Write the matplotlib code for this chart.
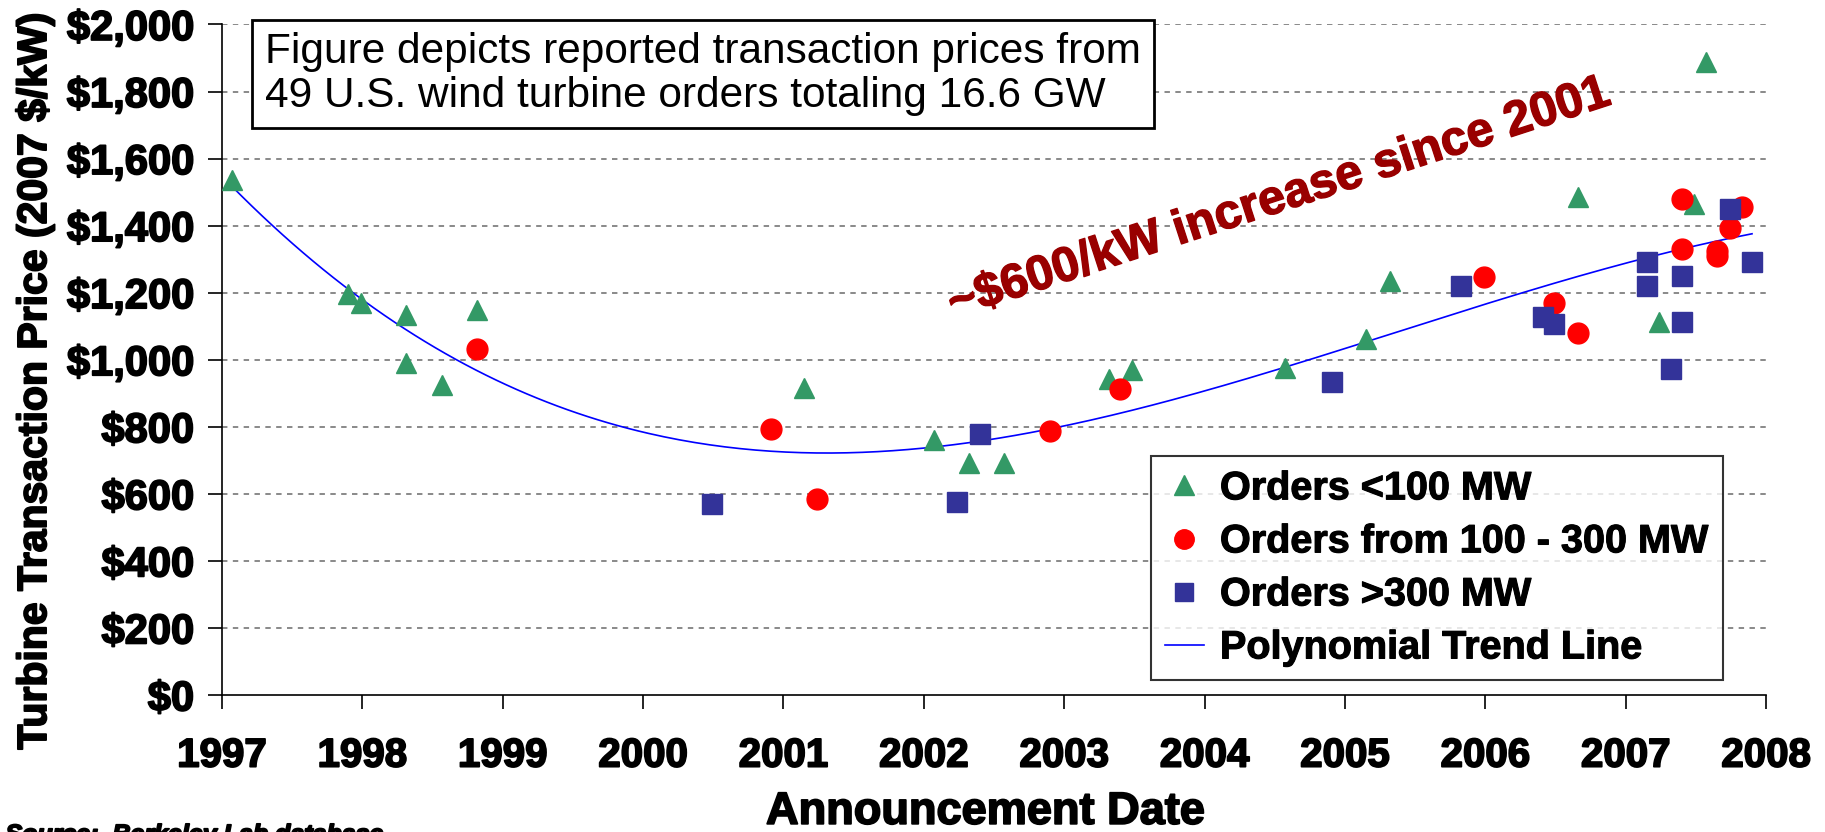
import numpy as np
import matplotlib
matplotlib.use('Agg')
from matplotlib import pyplot as plt
from matplotlib import patheffects as pe
from matplotlib.lines import Line2D
from matplotlib.ticker import FuncFormatter

# orders < 100 MW
small_dates = [1997.07, 1997.90, 1997.99, 1998.31, 1998.31, 1998.57, 1998.82,
               2001.15, 2002.07, 2002.32, 2002.57, 2003.32, 2003.48, 2004.57,
               2005.15, 2005.32, 2006.66, 2007.24, 2007.49, 2007.57]
small_prices = [1536, 1195, 1170, 1132, 989, 926, 1148,
                917, 762, 692, 692, 941, 969, 976,
                1063, 1235, 1485, 1113, 1465, 1888]

# orders from 100 - 300 MW
mid_dates = [1998.82, 2000.91, 2001.24, 2002.90, 2003.40, 2005.99, 2006.49,
             2006.66, 2007.40, 2007.40, 2007.65, 2007.65, 2007.74, 2007.83]
mid_prices = [1031, 792, 585, 787, 913, 1248, 1168,
              1079, 1478, 1330, 1325, 1308, 1392, 1455]

# orders > 300 MW
large_dates = [2000.49, 2002.24, 2002.40, 2004.91, 2005.83, 2006.41, 2006.49,
               2007.15, 2007.15, 2007.32, 2007.40, 2007.40, 2007.74, 2007.90]
large_prices = [569, 577, 777, 933, 1220, 1127, 1108,
                1290, 1221, 972, 1251, 1112, 1450, 1290]

year_ticks = list(range(1997, 2009))
price_ticks = list(range(0, 2001, 200))

note_text = ('Figure depicts reported transaction prices from\n'
             '49 U.S. wind turbine orders totaling 16.6 GW')
trend_text = '~$600/kW increase since 2001'

GREEN = '#339966'
RED = '#ff0000'
NAVY = '#333399'

# thicken the bold text a bit, the original uses a very heavy face
HEAVY = [pe.withStroke(linewidth=1.3, foreground='black')]


def main():
    plt.rcParams['font.family'] = ['Liberation Sans', 'DejaVu Sans']

    fig = plt.figure(figsize=(18.25, 8.32), dpi=100)
    ax = fig.add_axes([0.1216, 0.1647, 0.8461, 0.8059])

    # dashed gridlines
    for p in price_ticks[1:]:
        ax.axhline(p, color='#808080', lw=1.3, ls=(0, (3, 3)), zorder=0)

    ax.plot(small_dates, small_prices, ls='none', marker='^', ms=15,
            color=GREEN, mec=GREEN, zorder=3)
    ax.plot(mid_dates, mid_prices, ls='none', marker='o', ms=15,
            color=RED, mec=RED, zorder=3)
    ax.plot(large_dates, large_prices, ls='none', marker='s', ms=14.5,
            color=NAVY, mec=NAVY, zorder=3)

    # cubic trend over all orders
    all_x = np.array(small_dates + mid_dates + large_dates)
    all_y = np.array(small_prices + mid_prices + large_prices)
    coef = np.polyfit(all_x - 2000, all_y, 3)
    xs = np.linspace(all_x.min(), all_x.max(), 300)
    ax.plot(xs, np.polyval(coef, xs - 2000), color='#0000ff', lw=1.2, zorder=2)

    ax.set_xlim(1997, 2008)
    ax.set_ylim(0, 2000)
    ax.set_xticks(year_ticks)
    ax.set_yticks(price_ticks)
    ax.yaxis.set_major_formatter(FuncFormatter(lambda v, pos: '${:,.0f}'.format(v)))
    ax.tick_params(axis='y', direction='out', length=10, width=1.2, pad=10,
                   labelsize=30)
    ax.tick_params(axis='x', direction='out', length=10, width=1.2, pad=20,
                   labelsize=29)
    for lab in ax.get_xticklabels() + ax.get_yticklabels():
        lab.set_fontweight('bold')
        lab.set_path_effects(HEAVY)
    for s in ['top', 'right']:
        ax.spines[s].set_visible(False)
    for s in ['left', 'bottom']:
        ax.spines[s].set_linewidth(1.2)

    ylab = ax.set_ylabel('Turbine Transaction Price (2007 $/kW)', fontsize=29.5,
                         fontweight='bold', va='center')
    ylab.set_path_effects(HEAVY)
    ax.yaxis.set_label_coords(-0.121, 0.468)
    xlab = ax.set_xlabel('Announcement Date', fontsize=32.5, fontweight='bold',
                         va='center')
    xlab.set_path_effects(HEAVY)
    ax.xaxis.set_label_coords(0.494, -0.175)

    fig.text(265 / 1825, 1 - 74 / 832, note_text, fontsize=30.5, ha='left',
             va='center', linespacing=1.1,
             bbox=dict(boxstyle='square,pad=0.3', fc='white', ec='black', lw=2))

    ax.text(2004.53, 1479, trend_text, color='#990000', fontsize=35,
            fontweight='bold', rotation=18, ha='center', va='center',
            rotation_mode='anchor',
            path_effects=[pe.withStroke(linewidth=1, foreground='#990000')])

    handles = [
        Line2D([], [], ls='none', marker='^', ms=14, color=GREEN),
        Line2D([], [], ls='none', marker='o', ms=14, color=RED),
        Line2D([], [], ls='none', marker='s', ms=13, color=NAVY),
        Line2D([], [], color='#0000ff', lw=1.2),
    ]
    labels = ['Orders <100 MW', 'Orders from 100 - 300 MW', 'Orders >300 MW',
              'Polynomial Trend Line']
    leg = ax.legend(handles, labels, loc='upper left',
                    bbox_to_anchor=(0.602, 0.356), borderaxespad=0,
                    prop={'size': 28.5, 'weight': 'bold'}, frameon=True,
                    fancybox=False, edgecolor='black', handlelength=1.0,
                    handletextpad=0.4, labelspacing=0.38, borderpad=0.33)
    leg.get_frame().set_linewidth(1.5)
    leg.set_zorder(5)
    for t in leg.get_texts():
        t.set_path_effects([pe.withStroke(linewidth=0.8, foreground='black')])

    fig.text(0.003, -0.012, 'Source:  Berkeley Lab database', fontsize=18,
             fontweight='bold', style='italic', ha='left', va='baseline',
             path_effects=HEAVY)

    fig.savefig('out.png', dpi=100)


if __name__ == "__main__":
    main()
